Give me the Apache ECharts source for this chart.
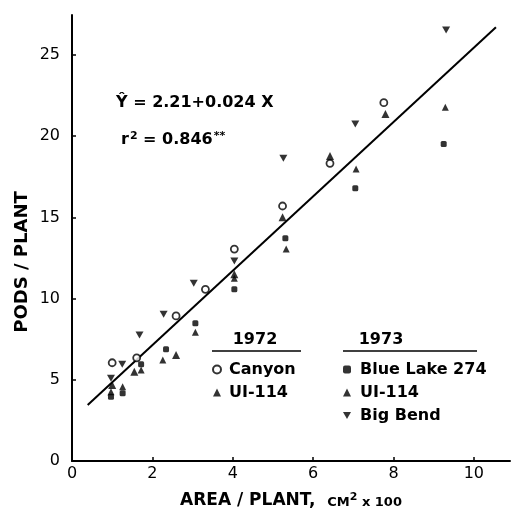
<!DOCTYPE html>
<html>
<head>
<meta charset="utf-8">
<script src="https://cdn.jsdelivr.net/npm/echarts@6/dist/echarts.min.js"></script>
<style>
html,body{margin:0;padding:0;background:#fff;}
#chart{width:515px;height:510px;}
</style>
</head>
<body>
<div id="chart"></div>
<script>
// ---- data ----
const canyon1972 = [[1.0,6.05],[1.61,6.35],[2.59,8.93],[3.32,10.57],[4.04,13.05],[5.24,15.7],[6.42,18.33],[7.76,22.06]];
const ui114_1972 = [[1.0,4.68],[1.55,5.5],[2.59,6.53],[4.04,11.5],[5.24,15.0],[6.42,18.78],[7.80,21.37]];
const blueLake1973 = [[0.97,3.96],[1.26,4.17],[1.72,5.95],[2.34,6.88],[3.07,8.48],[4.04,10.57],[5.31,13.71],[7.05,16.79],[9.25,19.52]];
const ui114_1973 = [[0.97,4.27],[1.26,4.57],[1.72,5.6],[2.26,6.22],[3.07,7.92],[4.04,11.25],[5.33,13.05],[7.07,17.98],[9.29,21.78]];
const bigBend1973 = [[0.97,5.09],[1.25,5.95],[1.68,7.76],[2.28,9.03],[3.03,10.95],[4.04,12.31],[5.26,18.64],[7.05,20.75],[9.31,26.54]];
const regressionLine = [[0.39,3.45],[10.55,26.7]];
const xTicks = [0,2,4,6,8,10];
const yTicks = [0,5,10,15,20,25];

const FONT = 'DejaVu Sans';
const invTri = 'path://M0,0 L10,0 L5,9 Z';

const chart = echarts.init(document.getElementById('chart'), null, {renderer:'canvas'});
const strip = n => n.replace(/ \(\d+\)$/, '');

chart.setOption({
  animation:false,
  backgroundColor:'#fff',
  grid:{left:72, top:15, width:438, height:446, containLabel:false, outerBoundsMode:'none'},
  xAxis:{
    type:'value', min:0, max:10.9, interval:2,
    axisLine:{lineStyle:{color:'#000', width:2}},
    axisTick:{inside:true, length:4, lineStyle:{color:'#000', width:1.5}},
    splitLine:{show:false},
    axisLabel:{color:'#000', fontFamily:FONT, fontSize:16, margin:5, showMaxLabel:false,
      formatter:v => xTicks.includes(v) ? String(v) : ''},
    name:'{a|AREA / PLANT,  }{b|CM}{s|2}{b| x 100}',
    nameLocation:'middle', nameGap:31,
    nameTextStyle:{rich:{
      a:{fontFamily:FONT, fontSize:17, fontWeight:'bold', color:'#000'},
      b:{fontFamily:FONT, fontSize:13, fontWeight:'bold', color:'#000', verticalAlign:'bottom'},
      s:{fontFamily:FONT, fontSize:11, fontWeight:'bold', color:'#000', verticalAlign:'top', padding:[0,0,6,0]}
    }}
  },
  yAxis:{
    type:'value', min:0, max:27.46, interval:5,
    axisLine:{lineStyle:{color:'#000', width:2}},
    axisTick:{inside:true, length:4, lineStyle:{color:'#000', width:1.5}},
    splitLine:{show:false},
    axisLabel:{color:'#000', fontFamily:FONT, fontSize:16, margin:12, showMaxLabel:false,
      formatter:v => yTicks.includes(v) ? String(v) : ''}
  },
  legend:[
    {data:['Canyon (1972)','UI-114 (1972)'], orient:'vertical', left:207, top:356,
     itemWidth:8, itemHeight:8, itemGap:6, formatter:strip, inactiveColor:'#000',
     textStyle:{fontFamily:FONT, fontSize:16, fontWeight:'bold', lineHeight:17, color:'#000', padding:[0,0,0,3]}},
    {data:['Blue Lake 274 (1973)','UI-114 (1973)','Big Bend (1973)'], orient:'vertical', left:338, top:356,
     itemWidth:8, itemHeight:8, itemGap:6, formatter:strip, inactiveColor:'#000',
     textStyle:{fontFamily:FONT, fontSize:16, fontWeight:'bold', lineHeight:17, color:'#000', padding:[0,0,0,4]}}
  ],
  graphic:[
    {type:'text', x:22, y:262, rotation:Math.PI/2,
     style:{text:'PODS / PLANT', font:'bold 18px "DejaVu Sans"', fill:'#000', align:'center', verticalAlign:'middle'}},
    {type:'text', x:116, y:103,
     style:{text:'Ŷ = 2.21+0.024 X', font:'bold 16px "DejaVu Sans"', fill:'#000', align:'left', verticalAlign:'middle'}},
    {type:'text', x:121, y:140,
     style:{text:'{a|r}{s|2}{a| = 0.846}{s|**}', fill:'#000', align:'left', verticalAlign:'middle',
       rich:{a:{fontFamily:FONT, fontSize:16, fontWeight:'bold', fill:'#000'}, s:{fontFamily:FONT, fontSize:11, fontWeight:'bold', fill:'#000', verticalAlign:'top', padding:[0,0,8,1]}}}},
    {type:'text', x:255, y:340,
     style:{text:'1972', font:'bold 16px "DejaVu Sans"', fill:'#000', align:'center', verticalAlign:'middle'}},
    {type:'text', x:381, y:340,
     style:{text:'1973', font:'bold 16px "DejaVu Sans"', fill:'#000', align:'center', verticalAlign:'middle'}},
    {type:'line', shape:{x1:212, y1:351, x2:301, y2:351}, style:{stroke:'#000', lineWidth:1.5}},
    {type:'line', shape:{x1:343, y1:351, x2:477, y2:351}, style:{stroke:'#000', lineWidth:1.5}}
  ],
  series:[
    {name:'Regression', type:'line', data:regressionLine, showSymbol:false, symbol:'none',
     lineStyle:{color:'#000', width:2}, silent:true, z:1},
    {name:'Canyon (1972)', type:'scatter', data:canyon1972, symbol:'circle', symbolSize:7,
     itemStyle:{color:'#fff', borderColor:'#000', borderWidth:1.8}, z:3},
    {name:'UI-114 (1972)', type:'scatter', data:ui114_1972, symbol:'triangle', symbolSize:8,
     itemStyle:{color:'#000'}, z:3},
    {name:'Blue Lake 274 (1973)', type:'scatter', data:blueLake1973, symbol:'roundRect', symbolSize:6,
     itemStyle:{color:'#000'}, z:3},
    {name:'UI-114 (1973)', type:'scatter', data:ui114_1973, symbol:'triangle', symbolSize:7,
     itemStyle:{color:'#000'}, z:3},
    {name:'Big Bend (1973)', type:'scatter', data:bigBend1973, symbol:invTri, symbolSize:[8,7],
     itemStyle:{color:'#000'}, z:3}
  ]
});
</script>
</body>
</html>
